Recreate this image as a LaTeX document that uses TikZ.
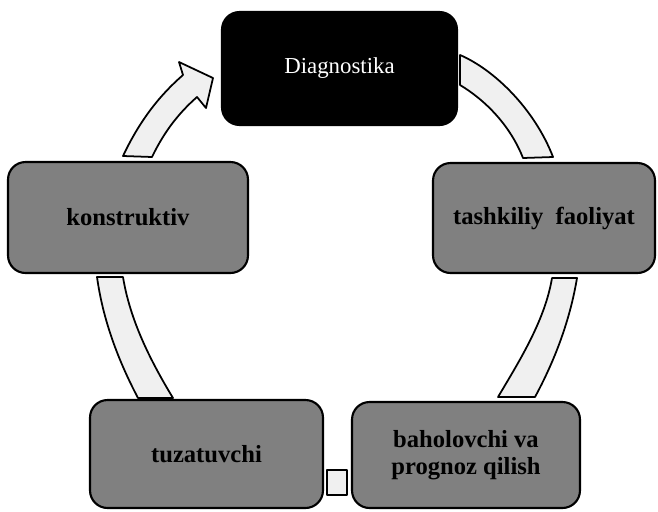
\documentclass[tikz,border=0pt]{standalone}
\usepackage{fontspec}
\setmainfont{Liberation Serif}
\usetikzlibrary{shapes,arrows,positioning}

\begin{document}
\begin{tikzpicture}[x=0.02cm, y=-0.02cm, thick]
    % Styles
    \tikzstyle{box} = [rectangle, rounded corners=0.35cm, draw, line width=1.2pt, fill=black!50, text centered, align=center, font=\bfseries\fontsize{14}{15}\selectfont]
    \tikzstyle{arr} = [draw, line width=1pt, fill=black!6, line join=round]
    \useasboundingbox (0,0) rectangle (658,511);

    % Nodes
    \node [box, fill=black, text=white, font=\fontsize{13}{15}\selectfont, minimum width=4.7cm, minimum height=2.26cm] (diag) at (339.5,68.5) {Diagnostika};
    \node [box, minimum width=4.8cm, minimum height=2.22cm] (konstr) at (128,217.5) {konstruktiv};
    \node [box, minimum width=4.44cm, minimum height=2.2cm] (tashkil) at (544,218) {tashkiliy\ \ faoliyat};
    \node [box, minimum width=4.66cm, minimum height=2.16cm] (tuzat) at (206.5,454) {tuzatuvchi};
    \node [box, minimum width=4.56cm, minimum height=2.12cm] (baho) at (466,455) {baholovchi va\\prognoz qilish};

    % Cycle arrows
    \path [arr] (123,156) .. controls (140,120) and (160,95) .. (183,75) -- (179,62) -- (213,78) -- (206,108) -- (197,97) .. controls (180,112) and (165,130) .. (152,157) -- cycle;
    \path [arr] (460,55) .. controls (495,70) and (535,110) .. (553,157) -- (523,158) .. controls (510,125) and (485,100) .. (460,85) -- cycle;
    \path [arr] (552,278) -- (577,278) .. controls (570,320) and (555,360) .. (535,397) -- (498,397) .. controls (520,360) and (545,320) .. (552,278) -- cycle;
    \path [arr] (97,277) -- (123,277) .. controls (130,320) and (150,360) .. (173,398) -- (138,398) .. controls (118,360) and (103,320) .. (97,277) -- cycle;
    \path [arr] (327,470) rectangle (347,495);

\end{tikzpicture}
\end{document}
